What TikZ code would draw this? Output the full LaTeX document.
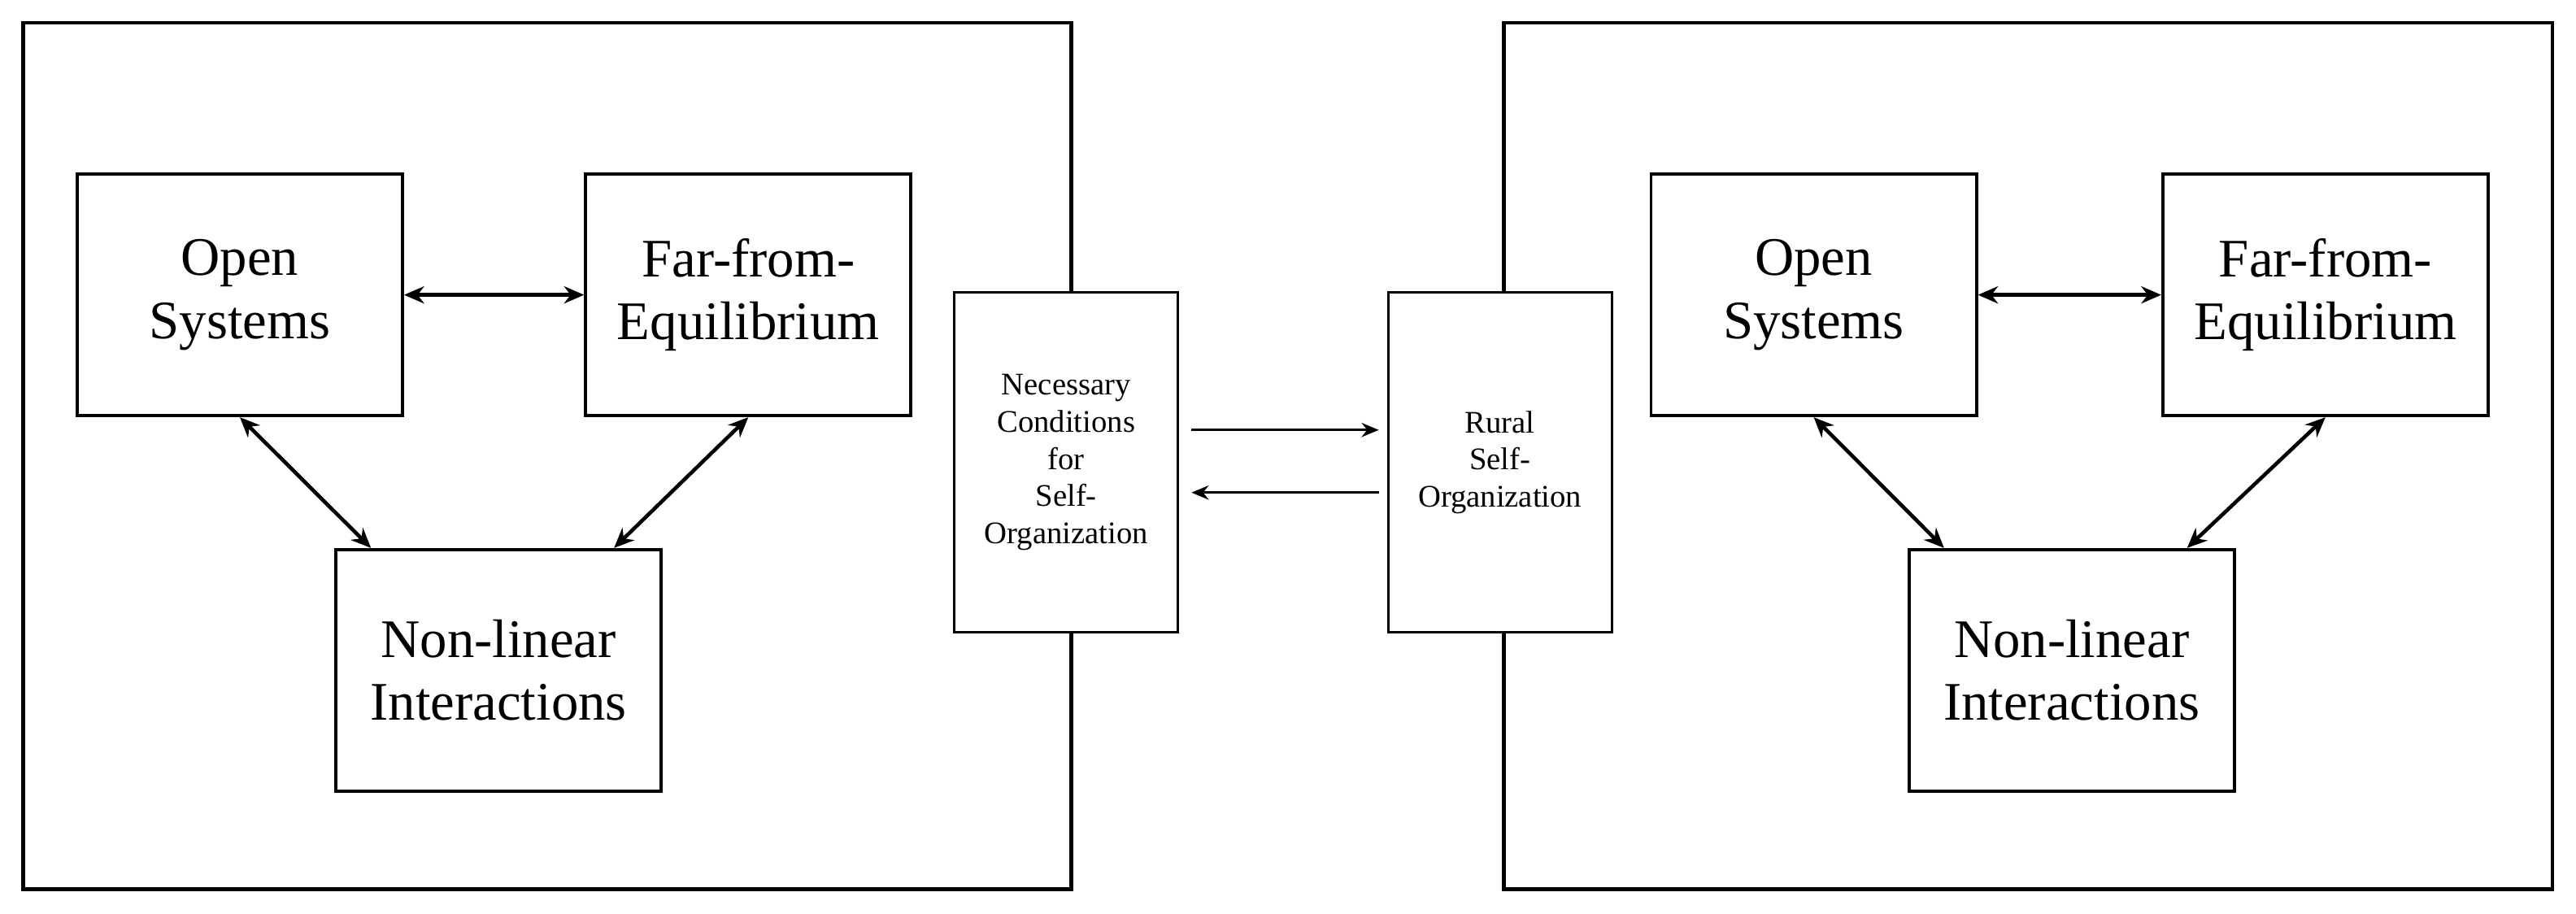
\documentclass[tikz,border=0pt]{standalone}
\usepackage{fontspec}
\setmainfont{Liberation Serif}
\usetikzlibrary{positioning,arrows.meta}
\tikzstyle{outer} = [draw=black, line width=1.3pt, minimum width=12.89cm, minimum height=10.65cm]
\tikzstyle{block} = [draw=black, line width=1.1pt, minimum width=4cm, minimum height=2.97cm, align=center, font=\fontsize{19}{22}\selectfont]
\tikzstyle{mid} = [draw=black, fill=white, line width=0.9pt, minimum width=2.75cm, minimum height=4.18cm, align=center, font=\fontsize{11}{13}\selectfont]
\tikzstyle{arrow} = [line width=1.3pt, {Stealth[length=7pt,width=6pt]}-{Stealth[length=7pt,width=6pt]}]
\tikzstyle{thin} = [line width=0.8pt, -{Stealth[length=6pt,width=5pt]}]
\begin{document}
\begin{tikzpicture}[x=0.0202cm, y=-0.0202cm]
\useasboundingbox (0,0) rectangle (1568,556);
\node (L) [outer] at (333,277.5) {};
\node (R) [outer] at (1234.5,277.5) {};
% left group
\node (os1) [block] at (146,179.5) {Open\\Systems};
\node (fe1) [block] at (455.5,179.5) {Far-from-\\Equilibrium};
\node (nl1) [block] at (303.5,408) {Non-linear\\Interactions};
% right group
\node (os2) [block] at (1104,179.5) {Open\\Systems};
\node (fe2) [block] at (1415.5,179.5) {Far-from-\\Equilibrium};
\node (nl2) [block] at (1261,408) {Non-linear\\Interactions};
% middle
\node (nc) [mid] at (649,281.5) {Necessary\\Conditions\\for\\Self-\\Organization};
\node (rs) [mid] at (913,281.5) {Rural\\Self-\\Organization};
\draw [arrow] (os1.east) -- (fe1.west);
\draw [arrow] (os1.south) -- ([xshift=0.45cm]nl1.north west);
\draw [arrow] (fe1.south) -- ([xshift=-0.6cm]nl1.north east);
\draw [arrow] (os2.east) -- (fe2.west);
\draw [arrow] (os2.south) -- ([xshift=0.45cm]nl2.north west);
\draw [arrow] (fe2.south) -- ([xshift=-0.6cm]nl2.north east);
\draw [thin] ([xshift=0.15cm,yshift=0.4cm]nc.east) -- ([xshift=-0.1cm,yshift=0.4cm]rs.west);
\draw [thin] ([xshift=-0.1cm,yshift=-0.37cm]rs.west) -- ([xshift=0.15cm,yshift=-0.37cm]nc.east);
\end{tikzpicture}
\end{document}
